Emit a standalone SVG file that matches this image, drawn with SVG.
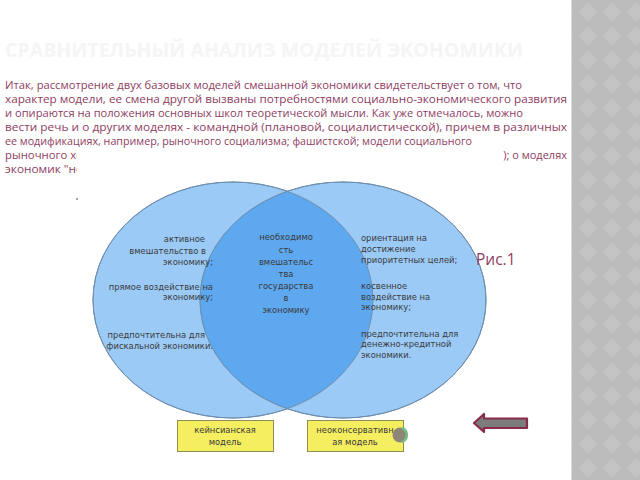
<svg xmlns="http://www.w3.org/2000/svg" width="640" height="480" viewBox="0 0 640 480">
<style>
.body{font-family:"Open Sans","DejaVu Sans",sans-serif;font-size:11px;fill:#8e3d62}
.lbl{font-family:"DejaVu Sans","Open Sans",sans-serif;font-size:8.4px;fill:#3a3a3a}
.box{fill:#f5ee60;stroke:#8f8f55;stroke-width:1}
.ell{fill:#9ccaf7;stroke:#6f8fae;stroke-width:1}
</style>
<defs>
<pattern id="dia" width="24" height="24" patternUnits="userSpaceOnUse">
<rect width="24" height="24" fill="#bcbcbc"/>
<polygon points="12,2 21,12 12,22 3,12" fill="#c3c3c3"/>
</pattern>
<clipPath id="clipL"><ellipse cx="233" cy="300" rx="140" ry="118"/></clipPath>
</defs>
<rect width="640" height="480" fill="#ffffff"/>
<rect x="571" y="0" width="69" height="480" fill="url(#dia)"/>
<line x1="571.5" y1="0" x2="571.5" y2="480" stroke="#d8d8d8" stroke-width="1"/>

<text x="5" y="57" font-family="'Open Sans','DejaVu Sans',sans-serif" font-size="19" font-weight="bold" fill="#f5f5f5" textLength="518" lengthAdjust="spacingAndGlyphs">СРАВНИТЕЛЬНЫЙ АНАЛИЗ МОДЕЛЕЙ ЭКОНОМИКИ</text>

<g id="body-text">
<text class="body" x="5" y="89" textLength="517" lengthAdjust="spacingAndGlyphs">Итак, рассмотрение двух базовых моделей смешанной экономики свидетельствует о том, что</text>
<text class="body" x="5" y="103" textLength="562" lengthAdjust="spacingAndGlyphs">характер модели, ее смена другой вызваны потребностями социально-экономического развития</text>
<text class="body" x="5" y="117" textLength="518" lengthAdjust="spacingAndGlyphs">и опираются на положения основных школ теоретической мысли. Как уже отмечалось, можно</text>
<text class="body" x="5" y="131" textLength="562" lengthAdjust="spacingAndGlyphs">вести речь и о других моделях - командной (плановой, социалистической), причем в различных</text>
<text class="body" x="5" y="145" textLength="467" lengthAdjust="spacingAndGlyphs">ее модификациях, например, рыночного социализма; фашистской; модели социального</text>
<text class="body" x="5" y="159" textLength="78" lengthAdjust="spacingAndGlyphs">рыночного хо</text>
<text class="body" x="567" y="159" text-anchor="end">); о моделях</text>
<text class="body" x="5" y="173" textLength="78" lengthAdjust="spacingAndGlyphs">экономик "но</text>
<rect x="77" y="148" width="401" height="32" fill="#ffffff"/>
<circle cx="77" cy="199" r="0.9" fill="#777"/>
</g>

<g id="venn">
<g id="keynes-circle">
<ellipse class="ell" cx="233" cy="300" rx="140" ry="118"/>
</g>
<g id="neocon-circle">
<ellipse class="ell" cx="343" cy="300" rx="143" ry="118"/>
</g>
<g id="overlap">
<ellipse cx="343" cy="300" rx="143" ry="118" fill="#5ea8ef" clip-path="url(#clipL)"/>
<ellipse cx="233" cy="300" rx="140" ry="118" fill="none" stroke="#6f8fae" stroke-width="1"/>
<ellipse cx="343" cy="300" rx="143" ry="118" fill="none" stroke="#6f8fae" stroke-width="1"/>
</g>
</g>

<g id="left-labels" text-anchor="end">
<text class="lbl" x="205" y="242">активное</text>
<text class="lbl" x="206" y="254">вмешательство в</text>
<text class="lbl" x="213" y="265">экономику;</text>
<text class="lbl" x="213" y="290">прямое воздействие на</text>
<text class="lbl" x="213" y="300">экономику;</text>
<text class="lbl" x="205" y="338">предпочтительна для</text>
<text class="lbl" x="213" y="349">фискальной экономики.</text>
</g>

<g id="center-labels" text-anchor="middle">
<text class="lbl" x="286" y="240">необходимо</text>
<text class="lbl" x="286" y="253">сть</text>
<text class="lbl" x="286" y="265">вмешательс</text>
<text class="lbl" x="286" y="277">тва</text>
<text class="lbl" x="286" y="289">государства</text>
<text class="lbl" x="286" y="301">в</text>
<text class="lbl" x="286" y="313">экономику</text>
</g>

<g id="right-labels">
<text class="lbl" x="361" y="241">ориентация на</text>
<text class="lbl" x="361" y="252">достижение</text>
<text class="lbl" x="361" y="263">приоритетных целей;</text>
<text class="lbl" x="361" y="289">косвенное</text>
<text class="lbl" x="361" y="300">воздействие на</text>
<text class="lbl" x="361" y="310">экономику;</text>
<text class="lbl" x="361" y="337">предпочтительна для</text>
<text class="lbl" x="361" y="347">денежно-кредитной</text>
<text class="lbl" x="361" y="358">экономики.</text>
</g>

<g id="box-keynes">
<rect class="box" x="177.5" y="420.5" width="96" height="31"/>
<text class="lbl" x="225" y="433" text-anchor="middle">кейнсианская</text>
<text class="lbl" x="225" y="445" text-anchor="middle">модель</text>
</g>
<g id="box-neocon">
<rect class="box" x="307.5" y="420.5" width="96" height="31"/>
<text class="lbl" x="355" y="433" text-anchor="middle">неоконсервативн</text>
<text class="lbl" x="355" y="445" text-anchor="middle">ая модель</text>
<circle cx="400" cy="435" r="7.5" fill="#8e8676"/>
<path d="M402,428 A7.5,7.5 0 0 1 402,442" fill="none" stroke="#74c07e" stroke-width="2.5"/>
</g>

<text x="476" y="265" font-family="'Open Sans','DejaVu Sans',sans-serif" font-size="15.5" fill="#8e3d62">Рис.1</text>

<g id="back-arrow">
<polygon points="474,423 484,414 484,418.5 527,418.5 527,428 484,428 484,432" fill="#7c7c7c" stroke="#8a2a4c" stroke-width="2.2" stroke-linejoin="round"/>
</g>
</svg>
